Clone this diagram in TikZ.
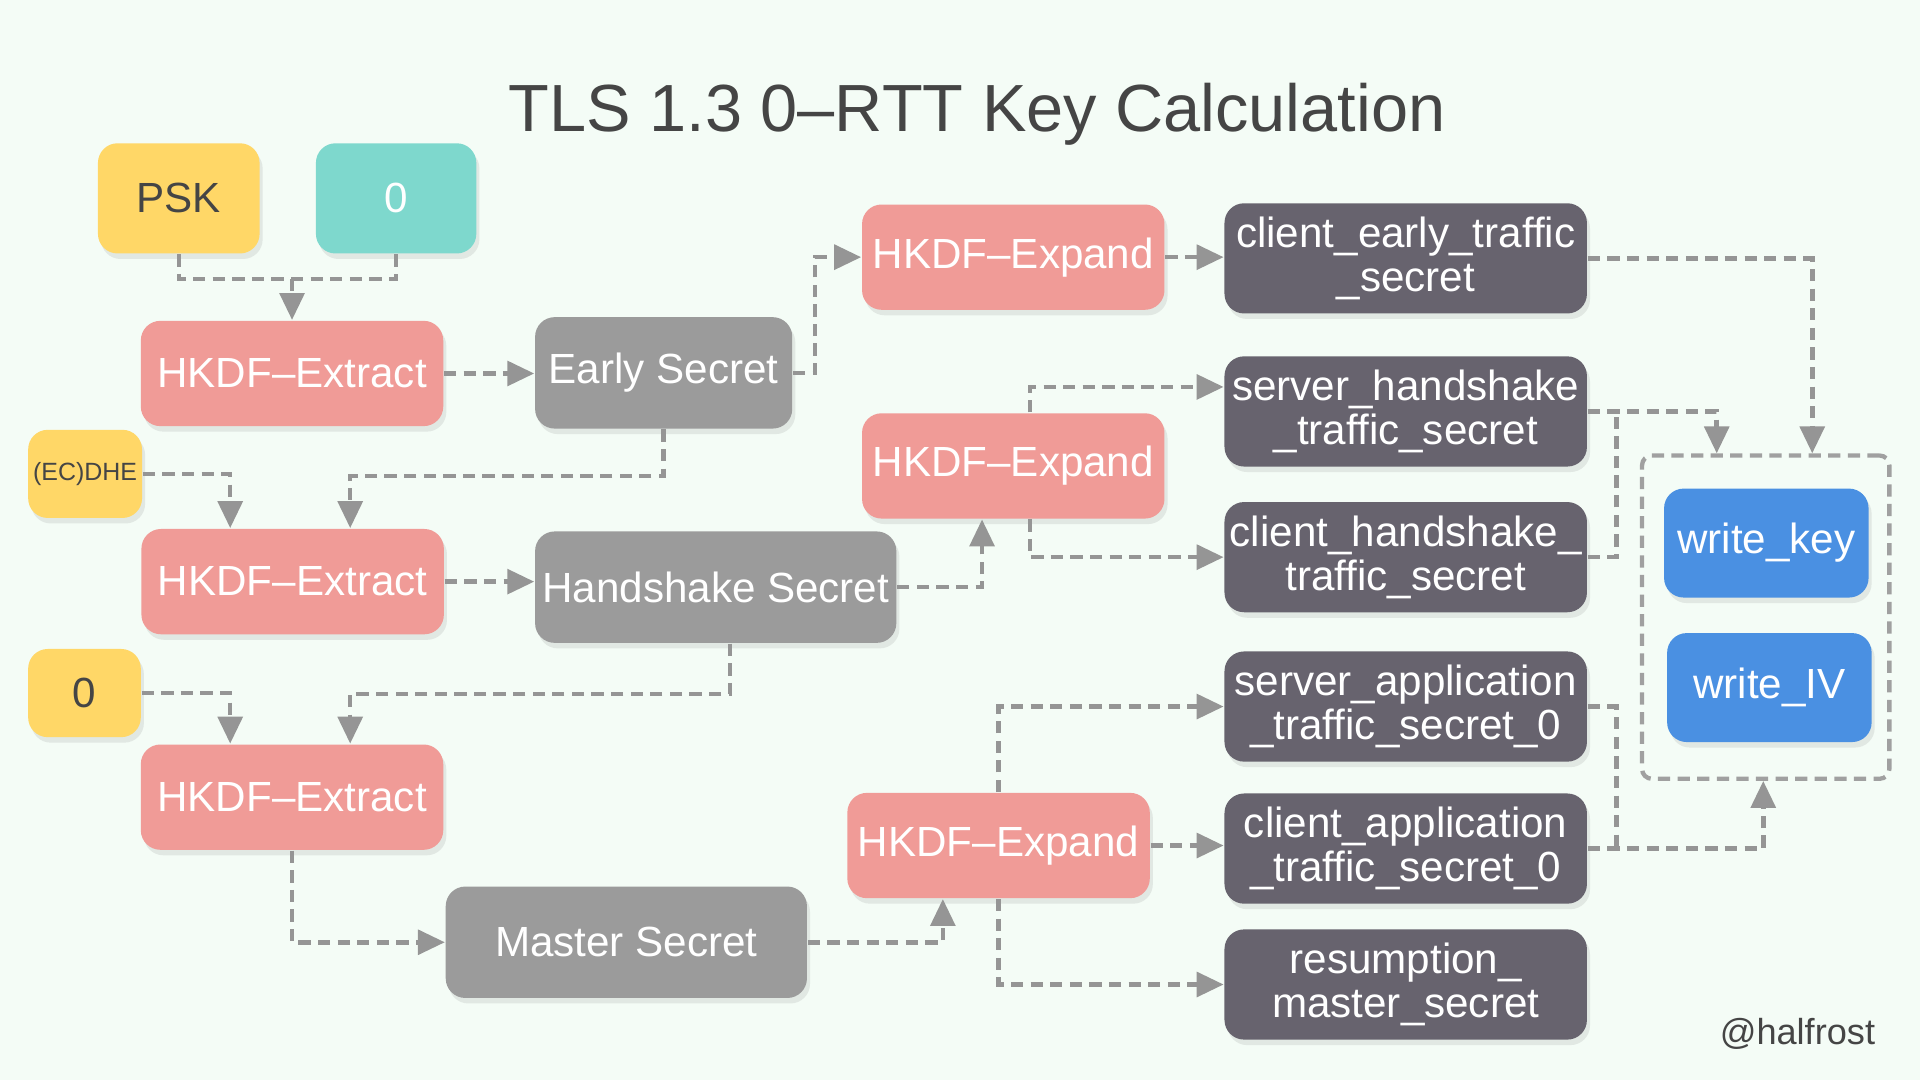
\documentclass[tikz,border=0pt]{standalone}
\usepackage{fontspec}
\setmainfont{Liberation Sans}
\usetikzlibrary{arrows.meta,shadows}
\definecolor{bgmint}{HTML}{F4FCF6}
\definecolor{inyellow}{HTML}{FFD767}
\definecolor{zeroteal}{HTML}{7ED8CD}
\definecolor{hkdfpink}{HTML}{F09B97}
\definecolor{secretgray}{HTML}{9B9B9B}
\definecolor{trafficdark}{HTML}{67636E}
\definecolor{writeblue}{HTML}{4A90E2}
\definecolor{linegray}{HTML}{959595}
\definecolor{textdark}{HTML}{454545}

\begin{document}
\begin{tikzpicture}[x=0.1mm,y=-0.1mm,>={Triangle[length=2.2mm,width=2mm]},line join=miter,
  box/.style={rounded corners=1.6mm,inner sep=0pt,align=center,text=white,
    font=\fontsize{9.8}{10.3}\selectfont,
    drop shadow={shadow xshift=0.25mm,shadow yshift=-0.45mm,opacity=0.16}},
  inbox/.style={box,fill=inyellow,text=textdark},
  tealbox/.style={box,fill=zeroteal},
  hkdf/.style={box,fill=hkdfpink,minimum width=24.7mm,minimum height=8.6mm},
  secret/.style={box,fill=secretgray,minimum height=9.1mm},
  traffic/.style={box,fill=trafficdark,minimum width=29.6mm,minimum height=9mm},
  writebox/.style={box,fill=writeblue,minimum width=16.7mm,minimum height=8.9mm},
  group/.style={draw=linegray!90,line width=1pt,dash pattern=on 1mm off 0.6mm,rounded corners=0.8mm},
  link/.style={draw=linegray,line width=1.05pt,dash pattern=on 1mm off 0.6mm}]
%%
\useasboundingbox [fill=bgmint] (0,0) rectangle (1568,882);
\node (title) at (798,107) [anchor=base,text=textdark,font=\fontsize{15.5}{18}\selectfont] {TLS 1.3 0–RTT Key Calculation};
\node (signature) at (1532,853) [anchor=base east,inner sep=0pt,text=textdark,font=\fontsize{8.4}{10}\selectfont] {@halfrost};
% inputs and extract stages
\node (psk) at (146,162) [inbox,minimum width=13.2mm,minimum height=9mm] {PSK};
\node (zero_psk) at (323.5,162) [tealbox,minimum width=13.1mm,minimum height=9mm] {0};
\node (extract_early) at (238.5,305) [hkdf] {HKDF–Extract};
\node (early_secret) at (542,304.5) [secret,minimum width=21mm] {Early Secret};
\node (ecdhe) at (69.5,387) [inbox,minimum width=9.3mm,minimum height=7.2mm,font=\fontsize{5.8}{7}\selectfont] {(EC)DHE};
\node (extract_hs) at (239,475) [hkdf] {HKDF–Extract};
\node (hs_secret) at (584.5,479.5) [secret,minimum width=29.5mm] {Handshake Secret};
\node (zero_ms) at (69,566) [inbox,minimum width=9.2mm,minimum height=7.2mm] {0};
\node (extract_ms) at (238.5,651) [hkdf] {HKDF–Extract};
\node (master_secret) at (511.5,769.5) [secret,minimum width=29.5mm] {Master Secret};
% expand stages
\node (expand_early) at (827.5,210) [hkdf] {HKDF–Expand};
\node (expand_hs) at (827.5,380.5) [hkdf] {HKDF–Expand};
\node (expand_ms) at (815.5,690.5) [hkdf] {HKDF–Expand};
% traffic secrets
\node (c_e_traffic) at (1148,211) [traffic] {client\_early\_traffic\\\_secret};
\node (s_hs_traffic) at (1148,336) [traffic] {server\_handshake\\\_traffic\_secret};
\node (c_hs_traffic) at (1148,455) [traffic] {client\_handshake\_\\traffic\_secret};
\node (s_ap_traffic) at (1148,577) [traffic] {server\_application\\\_traffic\_secret\_0};
\node (c_ap_traffic) at (1148,693) [traffic] {client\_application\\\_traffic\_secret\_0};
\node (res_master) at (1148,804) [traffic] {resumption\_\\master\_secret};
% key and iv
\node (key_group) at (1442,504) [group,minimum width=20.2mm,minimum height=26.4mm] {};
\node (write_key) at (1442.5,443.5) [writebox] {write\_key};
\node (write_iv) at (1445,561.5) [writebox] {write\_IV};
%
\coordinate (join_psk) at (238.5,228);
\draw [link] (psk.south) |- (join_psk) -| (zero_psk.south);
\draw [link,->] (join_psk) -- (extract_early.north);
\draw [link,->] (extract_early.east) -- (extract_early.east -| early_secret.west);
\draw [link,->] (early_secret.east) -- ++(18,0) |- (expand_early.west);
\draw [link,->] (early_secret.south) -- ++(0,38) -| (286,0 |- extract_hs.north);
\draw [link,->] (ecdhe.east) -| (188,0 |- extract_hs.north);
\draw [link,->] (extract_hs.east) -- (extract_hs.east -| hs_secret.west);
\draw [link,->] (hs_secret.east) -| (802,0 |- expand_hs.south);
\draw [link,->] (841,0 |- expand_hs.north) |- ([yshift=2mm]s_hs_traffic.west);
\draw [link,->] (841,0 |- expand_hs.south) |- (c_hs_traffic.west);
\draw [link,->] (expand_early.east) -- (expand_early.east -| c_e_traffic.west);
\draw [link,->] (596,0 |- hs_secret.south) -- ++(0,41) -| (286,0 |- extract_ms.north);
\draw [link,->] (zero_ms.east) -| (188,0 |- extract_ms.north);
\draw [link,->] (extract_ms.south) |- (master_secret.west);
\draw [link,->] (master_secret.east) -| (770,0 |- expand_ms.south);
\draw [link,->] (expand_ms.north) |- (s_ap_traffic.west);
\draw [link,->] (expand_ms.east) -- (expand_ms.east -| c_ap_traffic.west);
\draw [link,->] (expand_ms.south) |- (res_master.west);
\draw [link,->] (c_e_traffic.east) -| (1480,0 |- key_group.north);
\draw [link,->] (s_hs_traffic.east) -| (1402,0 |- key_group.north);
\draw [link] (c_hs_traffic.east) -| (1320,0 |- s_hs_traffic.east);
\draw [link] (s_ap_traffic.east) -| (1320,0 |- c_ap_traffic.east);
\draw [link,->] (c_ap_traffic.east) -| (1440,0 |- key_group.south);
%
\end{tikzpicture}
\end{document}
